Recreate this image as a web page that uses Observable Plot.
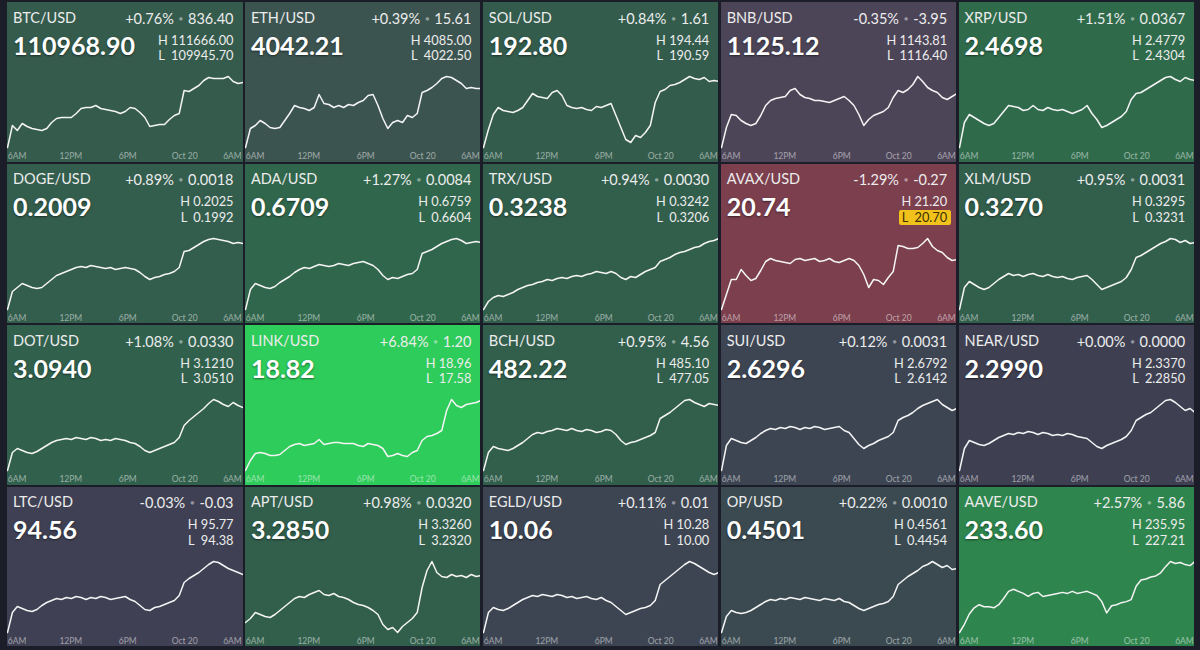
<!DOCTYPE html>
<html><head><meta charset="utf-8">
<script src="https://cdn.jsdelivr.net/npm/d3@7"></script>
<script src="https://cdn.jsdelivr.net/npm/@observablehq/plot@0.6"></script>
<style>
html,body{margin:0;padding:0;background:#1b1e28;width:1200px;height:650px;overflow:hidden;font-family:Lato,"Open Sans",sans-serif;}
#grid{position:absolute;left:7px;top:2px;display:grid;grid-template-columns:repeat(5,235.5px);grid-template-rows:repeat(4,159.5px);column-gap:2.4px;row-gap:2px;}
.tile{position:relative;overflow:hidden;color:#ececec;}
.tile svg{position:absolute;left:0;top:0;}
.name{position:absolute;left:6px;top:7.5px;font-size:14.5px;line-height:16px;white-space:nowrap;}
.chg{position:absolute;right:9px;top:7.5px;font-size:14.5px;line-height:16px;white-space:nowrap;}
.dot{color:rgba(255,255,255,0.45);font-size:7px;padding:0 5px;vertical-align:3px;}
.price{position:absolute;left:6px;top:27.5px;font-size:25px;font-weight:700;line-height:30px;color:#fff;text-shadow:0 1px 2px rgba(0,0,0,.5);white-space:nowrap;}
.hl{position:absolute;right:9px;font-size:12.8px;line-height:15px;white-space:nowrap;}
.hl.warn{right:5.5px;padding:0 3.5px 0 3px;background:#f1c21b;color:#3a2e05;border-radius:2px;}
</style></head>
<body><div id="grid"></div>
<script>
const pairs = ["BTC/USD","ETH/USD","SOL/USD","BNB/USD","XRP/USD","DOGE/USD","ADA/USD","TRX/USD","AVAX/USD","XLM/USD","DOT/USD","LINK/USD","BCH/USD","SUI/USD","NEAR/USD","LTC/USD","APT/USD","EGLD/USD","OP/USD","AAVE/USD"];
const prices = [110968.90,4042.21,192.80,1125.12,2.4698,0.2009,0.6709,0.3238,20.74,0.3270,3.0940,18.82,482.22,2.6296,2.2990,94.56,3.2850,10.06,0.4501,233.60];
const changePct = [0.76,0.39,0.84,-0.35,1.51,0.89,1.27,0.94,-1.29,0.95,1.08,6.84,0.95,0.12,0.00,-0.03,0.98,0.11,0.22,2.57];
const changeAbs = [836.40,15.61,1.61,-3.95,0.0367,0.0018,0.0084,0.0030,-0.27,0.0031,0.0330,1.20,4.56,0.0031,0.0000,-0.03,0.0320,0.01,0.0010,5.86];
const highs = [111666.00,4085.00,194.44,1143.81,2.4779,0.2025,0.6759,0.3242,21.20,0.3295,3.1210,18.96,485.10,2.6792,2.3370,95.77,3.3260,10.28,0.4561,235.95];
const lows = [109945.70,4022.50,190.59,1116.40,2.4304,0.1992,0.6604,0.3206,20.70,0.3231,3.0510,17.58,477.05,2.6142,2.2850,94.38,3.2320,10.00,0.4454,227.21];
const decimals = [2,2,2,2,4,4,4,4,2,4,4,2,2,4,4,2,4,2,4,2];

const tickLabels = ["6AM","12PM","6PM","Oct 20","6AM"];
const tickTimes = [new Date(2025,9,19,6), new Date(2025,9,19,12), new Date(2025,9,19,18), new Date(2025,9,20,0), new Date(2025,9,20,6)];

// 49 samples, 31 minutes apart, from 05:20 Oct 19 to 06:08 Oct 20
const btc = [110250,110470,110420,110490,110460,110440,110430,110420,110440,110500,110540,110550,110550,110550,110590,110640,110650,110650,110670,110640,110630,110620,110610,110590,110610,110650,110640,110600,110550,110460,110470,110480,110480,110530,110570,110590,110820,110810,110840,110870,110920,110950,110940,110940,110940,110960,110910,110890,110900];
const eth = [4010,4019.5,4021,4023.5,4022,4020,4019.5,4020,4023.5,4027,4031,4030,4029.5,4028.5,4030,4036.5,4032,4031.5,4030,4031,4030,4031.5,4031,4032.5,4033.5,4036,4036.5,4031,4024.5,4019.5,4022.5,4023.5,4022.5,4026,4025,4027,4037.5,4038.5,4040,4042,4044.5,4045.5,4045,4043.5,4042,4039.5,4040,4039.5,4039.5];
const sol = [187.0,188.8,190.3,191.0,190.7,190.6,190.5,190.7,191.0,191.7,192.4,192.1,192.0,191.9,192.5,192.7,192.2,191.2,191.0,190.9,191.0,190.8,190.7,191.1,191.0,191.2,191.4,190.2,189.0,187.8,187.5,188.2,188.0,188.5,189.2,191.5,192.6,192.8,193.2,193.3,193.5,193.8,194.1,193.9,193.8,194.0,193.6,193.7,193.6];
const bnb = [1100,1110,1116.5,1116,1113.5,1112,1111,1112,1116,1121,1123.5,1124.5,1125,1125.5,1128.5,1129.5,1126.5,1125,1124.5,1123.5,1123.5,1123,1122.5,1123.5,1124.5,1125.5,1123.5,1121,1116.5,1111,1114,1116,1117,1118,1120,1125,1128.5,1127.5,1129,1131.5,1135.5,1133,1130,1128.5,1127.5,1125,1124,1125.5,1127];
const xrp = [2.400,2.425,2.433,2.430,2.427,2.424,2.422,2.424,2.430,2.436,2.442,2.441,2.440,2.437,2.438,2.442,2.438,2.437,2.440,2.438,2.437,2.438,2.436,2.434,2.436,2.438,2.442,2.434,2.428,2.420,2.422,2.425,2.428,2.431,2.436,2.448,2.454,2.455,2.458,2.461,2.464,2.467,2.470,2.471,2.468,2.466,2.470,2.468,2.467];
const doge = [0.1950,0.1968,0.1972,0.1976,0.1974,0.1972,0.1971,0.1972,0.1976,0.1980,0.1984,0.1986,0.1988,0.1990,0.1992,0.1993,0.1992,0.1994,0.1993,0.1992,0.1991,0.1992,0.1990,0.1991,0.1992,0.1991,0.1990,0.1987,0.1983,0.1980,0.1982,0.1983,0.1985,0.1986,0.1988,0.1992,0.2008,0.2009,0.2012,0.2015,0.2018,0.2020,0.2021,0.2020,0.2019,0.2018,0.2016,0.2017,0.2016];
const ada = [0.6570,0.6610,0.6622,0.6618,0.6614,0.6612,0.6616,0.6624,0.6630,0.6636,0.6644,0.6650,0.6654,0.6652,0.6656,0.6660,0.6658,0.6656,0.6658,0.6662,0.6660,0.6658,0.6662,0.6664,0.6666,0.6662,0.6658,0.6650,0.6638,0.6630,0.6634,0.6632,0.6636,0.6640,0.6642,0.6650,0.6682,0.6686,0.6690,0.6696,0.6702,0.6706,0.6710,0.6712,0.6708,0.6702,0.6704,0.6706,0.6704];
const trx = [0.32000,0.32040,0.32060,0.32070,0.32065,0.32075,0.32085,0.32100,0.32110,0.32120,0.32125,0.32135,0.32140,0.32150,0.32145,0.32155,0.32160,0.32155,0.32165,0.32170,0.32165,0.32175,0.32180,0.32190,0.32185,0.32180,0.32190,0.32180,0.32160,0.32150,0.32165,0.32160,0.32175,0.32190,0.32200,0.32210,0.32240,0.32250,0.32260,0.32275,0.32285,0.32290,0.32300,0.32310,0.32315,0.32330,0.32340,0.32345,0.32355];
const avax = [20.20,20.35,20.50,20.50,20.60,20.54,20.49,20.51,20.59,20.68,20.71,20.69,20.68,20.67,20.66,20.70,20.71,20.69,20.70,20.71,20.68,20.69,20.71,20.68,20.67,20.69,20.71,20.69,20.64,20.55,20.42,20.50,20.49,20.45,20.52,20.58,20.84,20.83,20.81,20.81,20.82,20.86,20.91,20.83,20.79,20.77,20.72,20.69,20.70];
const xlm = [0.3200,0.3222,0.3228,0.3225,0.3222,0.3220,0.3222,0.3226,0.3230,0.3233,0.3236,0.3234,0.3235,0.3233,0.3235,0.3236,0.3234,0.3233,0.3235,0.3233,0.3232,0.3233,0.3231,0.3230,0.3232,0.3233,0.3234,0.3230,0.3225,0.3220,0.3222,0.3224,0.3226,0.3228,0.3232,0.3240,0.3252,0.3254,0.3257,0.3260,0.3263,0.3266,0.3268,0.3271,0.3270,0.3267,0.3269,0.3266,0.3267];
const dot = [3.020,3.038,3.042,3.040,3.038,3.037,3.039,3.042,3.045,3.048,3.050,3.051,3.052,3.051,3.053,3.052,3.051,3.053,3.052,3.050,3.051,3.050,3.052,3.051,3.050,3.048,3.047,3.044,3.040,3.038,3.040,3.042,3.044,3.046,3.048,3.053,3.065,3.070,3.074,3.078,3.082,3.087,3.091,3.089,3.086,3.084,3.088,3.085,3.083];
const link = [17.50,17.70,17.84,17.86,17.84,17.80,17.80,17.82,17.90,17.98,18.02,18.04,18.00,18.02,18.04,18.12,18.02,18.04,18.06,18.06,18.04,18.04,18.04,18.00,17.98,18.04,18.02,18.00,17.94,17.78,17.80,17.84,17.80,17.78,17.86,17.90,18.10,18.18,18.20,18.24,18.30,18.70,18.92,18.80,18.76,18.82,18.84,18.86,18.90];
const bch = [476.0,477.8,478.4,478.2,478.1,478.0,478.2,478.5,478.8,479.2,479.6,479.8,479.7,479.9,480.0,480.2,480.1,480.0,480.2,480.0,479.9,480.1,480.0,479.8,479.9,480.1,480.0,479.6,479.0,478.6,478.8,478.9,479.1,479.3,479.5,479.8,481.2,481.5,481.8,482.2,482.6,483.0,483.1,482.8,482.6,482.4,482.7,482.6,482.5];
const sui = [2.560,2.585,2.592,2.590,2.588,2.587,2.590,2.593,2.597,2.600,2.602,2.601,2.603,2.602,2.604,2.603,2.601,2.603,2.602,2.604,2.603,2.601,2.602,2.603,2.604,2.600,2.598,2.592,2.586,2.582,2.585,2.587,2.590,2.592,2.594,2.598,2.610,2.613,2.615,2.618,2.622,2.625,2.627,2.629,2.631,2.626,2.623,2.620,2.622];
const near = [2.230,2.252,2.260,2.258,2.256,2.255,2.257,2.260,2.263,2.265,2.267,2.266,2.268,2.267,2.269,2.268,2.266,2.268,2.267,2.265,2.266,2.265,2.267,2.266,2.264,2.263,2.262,2.258,2.254,2.252,2.255,2.257,2.259,2.261,2.264,2.270,2.280,2.283,2.286,2.288,2.292,2.296,2.300,2.301,2.298,2.294,2.290,2.292,2.288];
const ltc = [93.50,93.90,94.02,93.98,93.94,93.92,93.96,94.04,94.10,94.14,94.18,94.16,94.20,94.18,94.22,94.20,94.16,94.20,94.18,94.22,94.20,94.16,94.18,94.20,94.22,94.16,94.12,94.04,93.96,93.94,94.00,94.02,94.06,94.10,94.14,94.24,94.50,94.58,94.64,94.70,94.78,94.86,94.92,94.90,94.84,94.78,94.74,94.70,94.66];
const apt = [3.230,3.234,3.240,3.238,3.236,3.235,3.238,3.242,3.246,3.250,3.254,3.256,3.255,3.258,3.260,3.262,3.258,3.257,3.259,3.256,3.255,3.253,3.250,3.248,3.247,3.245,3.242,3.238,3.228,3.223,3.225,3.220,3.226,3.230,3.234,3.240,3.265,3.282,3.291,3.280,3.276,3.275,3.278,3.276,3.277,3.275,3.278,3.276,3.277];
const egld = [9.800,9.900,9.925,9.915,9.910,9.920,9.935,9.950,9.965,9.975,9.985,9.980,9.990,9.985,9.980,9.990,9.985,9.975,9.980,9.970,9.975,9.980,9.970,9.965,9.975,9.960,9.950,9.930,9.910,9.890,9.900,9.910,9.920,9.925,9.935,9.960,10.040,10.060,10.080,10.100,10.120,10.140,10.155,10.145,10.130,10.115,10.100,10.090,10.100];
const op = [0.4440,0.4456,0.4462,0.4460,0.4459,0.4460,0.4462,0.4465,0.4468,0.4471,0.4473,0.4472,0.4474,0.4473,0.4475,0.4474,0.4473,0.4475,0.4474,0.4473,0.4472,0.4474,0.4473,0.4472,0.4474,0.4471,0.4470,0.4467,0.4464,0.4462,0.4464,0.4466,0.4468,0.4469,0.4471,0.4476,0.4488,0.4492,0.4496,0.4499,0.4502,0.4506,0.4508,0.4511,0.4508,0.4505,0.4507,0.4503,0.4504];
const aave = [227.0,227.8,228.8,229.4,229.7,229.5,229.5,229.4,229.7,230.3,231.0,231.2,231.0,230.8,230.5,230.8,230.9,230.5,230.6,230.7,230.8,230.9,230.8,231.0,230.8,230.9,231.0,230.8,230.6,230.0,228.9,229.6,229.7,229.9,230.0,230.2,231.5,232.1,232.2,232.4,232.5,232.8,233.4,233.9,233.7,233.8,233.6,233.5,233.9];

const series = [btc,eth,sol,bnb,xrp,doge,ada,trx,avax,xlm,dot,link,bch,sui,near,ltc,apt,egld,op,aave];

// tile background keyed on % change
const colorStops = [-1.29,-0.35,0,0.12,0.22,0.39,0.76,0.95,1.27,1.51,2.57,6.84];
const colorRange = ["#7b3f4e","#4c4558","#3e4052","#3d4553","#3a4a50","#3c5450","#345b4c","#325e4c","#30664b","#2f6b4b","#2e854d","#2ecc5a"];
const tileColor = d3.scaleLinear().domain(colorStops).range(colorRange).clamp(true);

const W = 235.5, H = 159.5;
const grid = document.getElementById("grid");
const fmtPct = v => (v < 0 ? "" : "+") + v.toFixed(2) + "%";

pairs.forEach((pair, k) => {
  const dec = decimals[k];
  const tile = document.createElement("div");
  tile.className = "tile";
  tile.style.background = tileColor(changePct[k]);
  const times = series[k].map((_, i) => new Date(2025, 9, 19, 5, 20 + 31 * i));
  const data = series[k].map((v, i) => ({t: times[i], v}));
  const ticks = tickTimes.map((t, i) => ({t, label: tickLabels[i]}));
  const txt = {x: "t", text: "label", frameAnchor: "bottom", dy: 8.5, fontSize: 8.5, fill: "rgba(255,255,255,0.5)", lineAnchor: "middle", fontFamily: "Lato"};
  const chart = Plot.plot({
    width: W, height: H,
    marginTop: 74, marginBottom: 14.5, marginLeft: 0, marginRight: 0,
    style: {background: "transparent", overflow: "visible"},
    x: {type: "time", domain: [times[0], times[times.length - 1]], axis: null},
    y: {axis: null},
    marks: [
      Plot.line(data, {x: "t", y: "v", stroke: "#f4f4f4", strokeWidth: 1.5, strokeLinejoin: "round"}),
      Plot.text(ticks.slice(0, 1), {...txt, textAnchor: "start", dx: -6}),
      Plot.text(ticks.slice(1, 4), {...txt, textAnchor: "middle"}),
      Plot.text(ticks.slice(4), {...txt, textAnchor: "end", dx: 0})
    ]
  });
  tile.appendChild(chart);
  const lowWarn = (prices[k] - lows[k]) / (highs[k] - lows[k]) < 0.1;
  tile.insertAdjacentHTML("beforeend",
    `<div class="name">${pair}</div>` +
    `<div class="chg">${fmtPct(changePct[k])}<span class="dot">●</span>${changeAbs[k].toFixed(dec)}</div>` +
    `<div class="price">${prices[k].toFixed(dec)}</div>` +
    `<div class="hl" style="top:30.7px">H ${highs[k].toFixed(dec)}</div>` +
    `<div class="hl${lowWarn ? " warn" : ""}" style="top:46.4px">L&nbsp; ${lows[k].toFixed(dec)}</div>`);
  grid.appendChild(tile);
});
</script></body></html>
